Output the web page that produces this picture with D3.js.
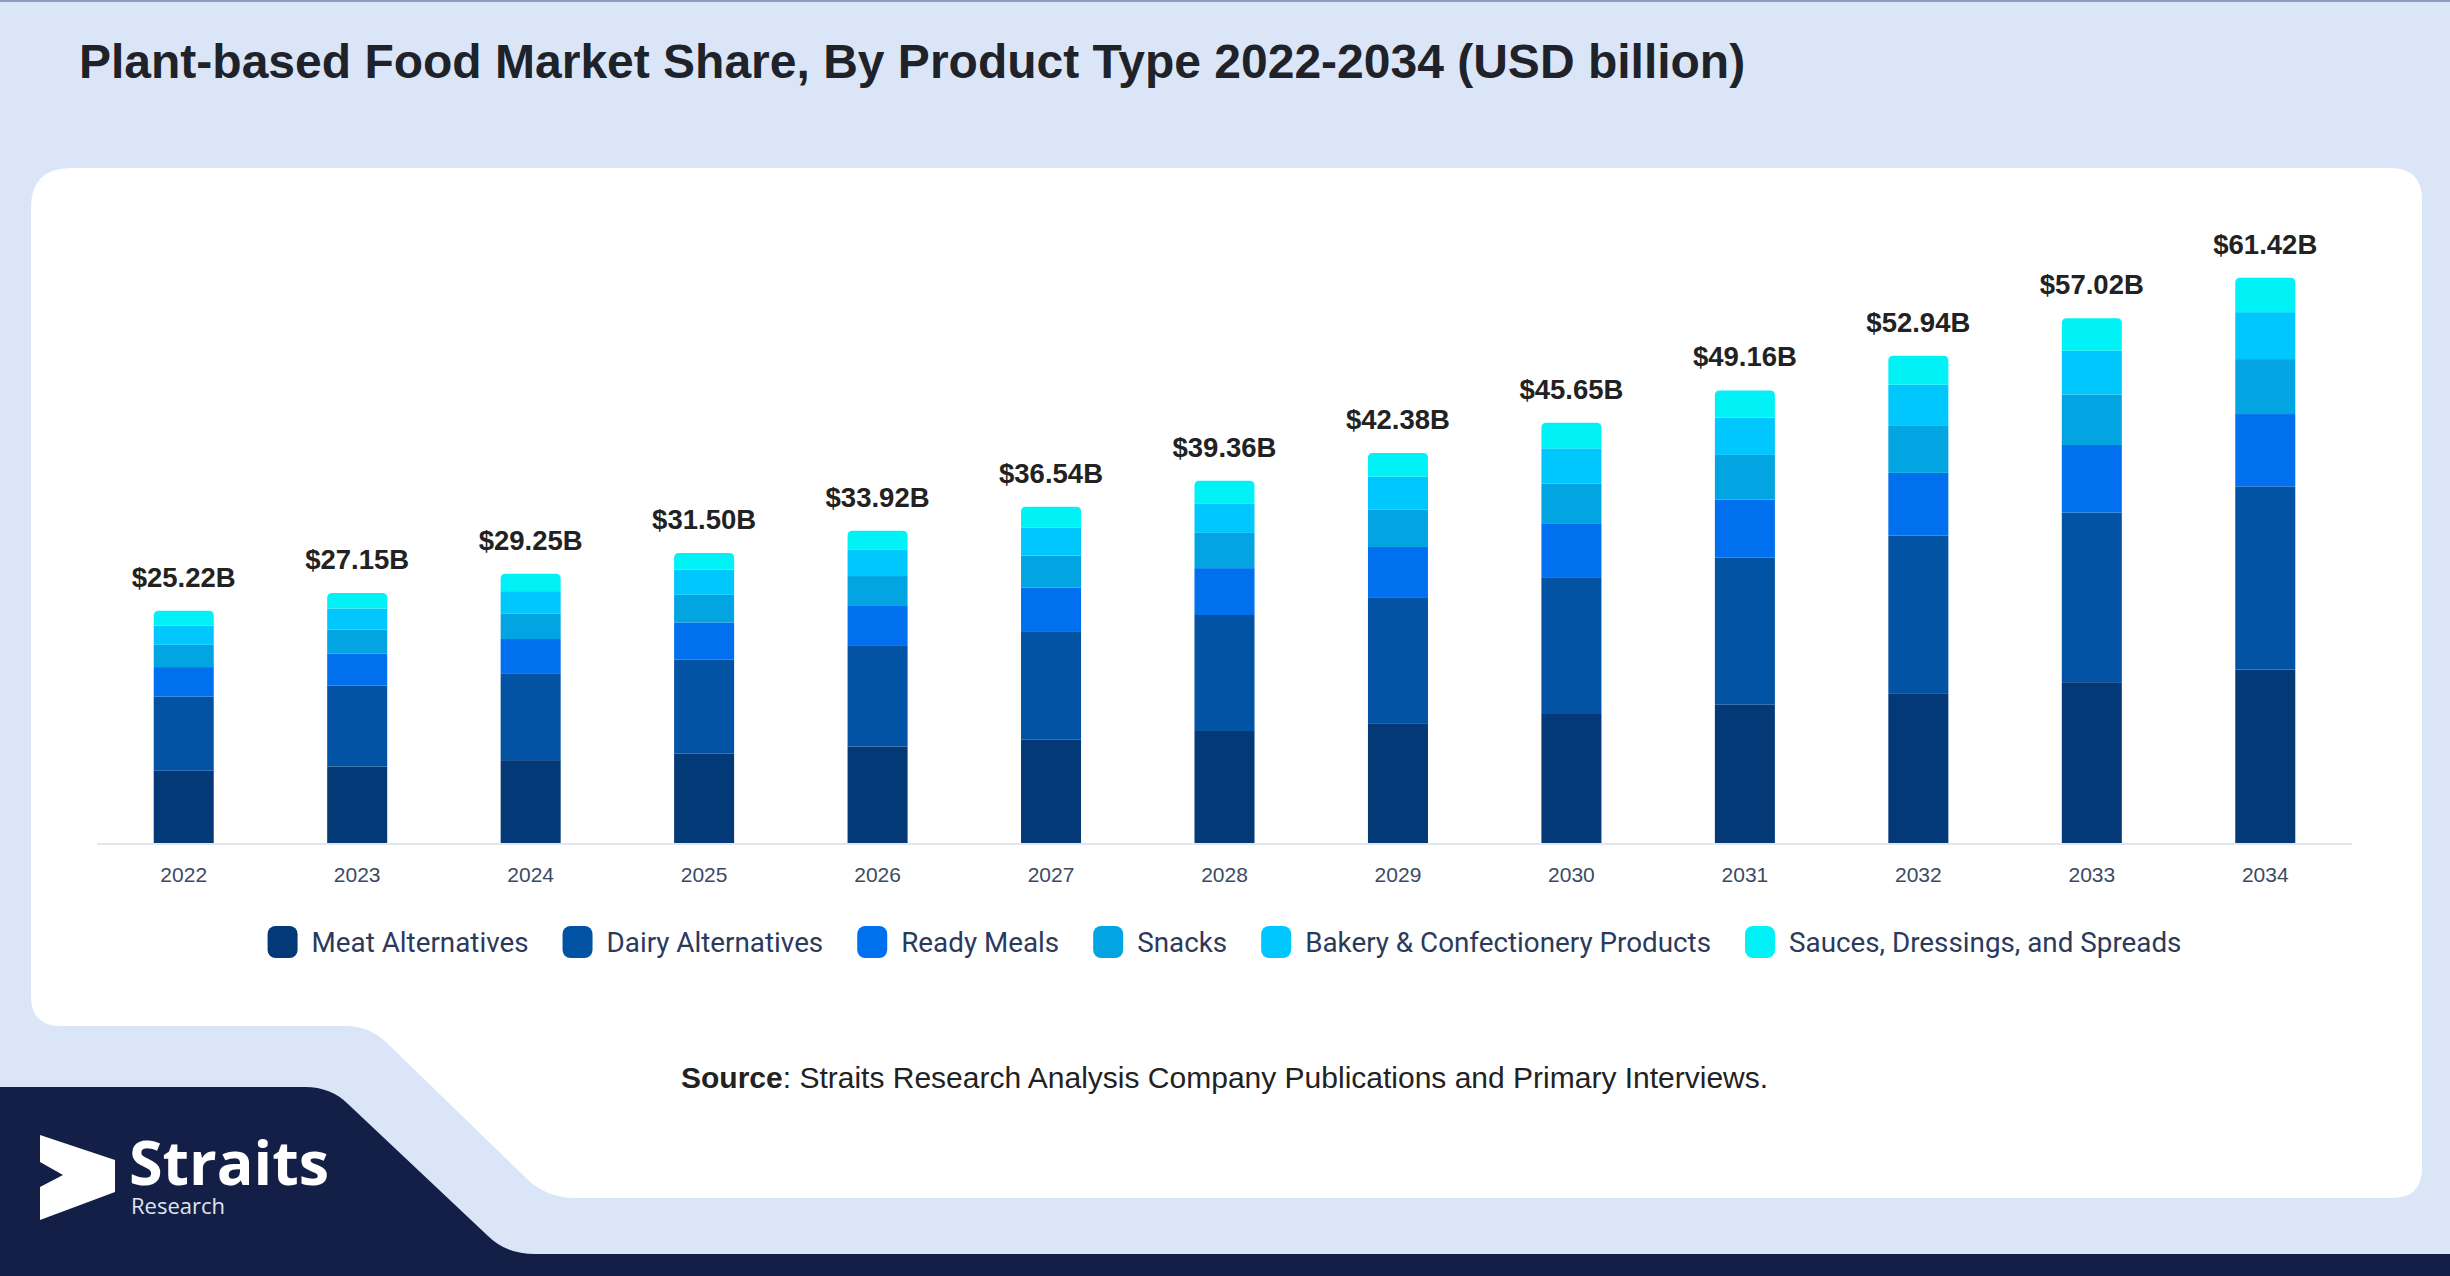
<!DOCTYPE html>
<html>
<head>
<meta charset="utf-8">
<script src="https://cdn.jsdelivr.net/npm/d3@7"></script>
<style>
  html, body { margin: 0; padding: 0; background: #dae6f8; }
  svg { display: block; }
</style>
</head>
<body>
<svg id="chart" width="2450" height="1276"></svg>
<script>
// ---- Data ----
const years = ['2022','2023','2024','2025','2026','2027','2028','2029','2030','2031','2032','2033','2034'];
const totals = [25.22, 27.15, 29.25, 31.50, 33.92, 36.54, 39.36, 42.38, 45.65, 49.16, 52.94, 57.02, 61.42];
const seriesNames = ['Meat Alternatives', 'Dairy Alternatives', 'Ready Meals', 'Snacks', 'Bakery & Confectionery Products', 'Sauces, Dressings, and Spreads'];
const meatAlternatives  = [7.85, 8.31, 9.00, 9.70, 10.49, 11.22, 12.17, 13.01, 14.11, 15.06, 16.27, 17.47, 18.84];
const dairyAlternatives = [8.07, 8.78, 9.44, 10.21, 10.92, 11.79, 12.60, 13.69, 14.69, 15.93, 17.14, 18.44, 19.90];
const readyMeals        = [3.19, 3.50, 3.72, 4.05, 4.34, 4.74, 5.09, 5.46, 5.86, 6.31, 6.80, 7.33, 7.86];
const snacks            = [2.42, 2.60, 2.78, 3.00, 3.25, 3.47, 3.83, 4.05, 4.38, 4.86, 5.10, 5.48, 5.97];
const bakery            = [2.06, 2.28, 2.42, 2.72, 2.89, 3.04, 3.21, 3.58, 3.83, 4.03, 4.47, 4.75, 5.10];
const sauces            = [1.63, 1.68, 1.89, 1.82, 2.03, 2.28, 2.46, 2.59, 2.78, 2.97, 3.16, 3.55, 3.75];
const colors = ['#043977', '#0253a4', '#0070ee', '#02a5e2', '#00c7fe', '#00f2f7'];

const seriesValues = [meatAlternatives, dairyAlternatives, readyMeals, snacks, bakery, sauces];
const table = years.map((y, i) => {
  const row = { year: y };
  seriesNames.forEach((s, k) => row[s] = seriesValues[k][i]);
  return row;
});

const svg = d3.select('#chart');

// ---- Background decorations ----
svg.append('rect').attr('x', 0).attr('y', 0).attr('width', 2450).attr('height', 1276).attr('fill', '#dae6f8');
svg.append('rect').attr('x', 0).attr('y', 0).attr('width', 2450).attr('height', 2).attr('fill', '#8e9dbb');

// white card with stepped bottom-left
const card = d3.path();
card.moveTo(31 + 40, 168);
card.lineTo(2422 - 32, 168);
card.quadraticCurveTo(2422, 168, 2422, 168 + 32);
card.lineTo(2422, 1198 - 30);
card.quadraticCurveTo(2422, 1198, 2422 - 30, 1198);
card.lineTo(575, 1198);
card.quadraticCurveTo(546, 1198, 526, 1178);
card.lineTo(386, 1042);
card.quadraticCurveTo(369, 1026, 345, 1026);
card.lineTo(31 + 30, 1026);
card.quadraticCurveTo(31, 1026, 31, 1026 - 30);
card.lineTo(31, 168 + 40);
card.quadraticCurveTo(31, 168, 31 + 40, 168);
card.closePath();
svg.append('path').attr('d', card.toString()).attr('fill', '#ffffff');

// navy footer shape
const navy = d3.path();
navy.moveTo(0, 1087);
navy.lineTo(305, 1087);
navy.quadraticCurveTo(331, 1087, 348, 1104);
navy.lineTo(488, 1236);
navy.quadraticCurveTo(506, 1254, 535, 1254);
navy.lineTo(2450, 1254);
navy.lineTo(2450, 1276);
navy.lineTo(0, 1276);
navy.closePath();
svg.append('path').attr('d', navy.toString()).attr('fill', '#131f47');

// logo
svg.append('polygon')
  .attr('points', '40,1135 115,1160 115,1192 40,1220 40,1187 63,1175 40,1162')
  .attr('fill', '#ffffff');
svg.append('text').attr('x', 129).attr('y', 1185)
  .attr('font-family', '"Open Sans", sans-serif').attr('font-weight', 700)
  .attr('font-size', 61).attr('fill', '#ffffff').text('Straits');
svg.append('text').attr('x', 131).attr('y', 1214)
  .attr('font-family', '"Open Sans", sans-serif').attr('font-weight', 400)
  .attr('font-size', 22).attr('fill', '#dfe4ee').text('Research');

// ---- Title ----
svg.append('text').attr('x', 79).attr('y', 78)
  .attr('font-family', '"Liberation Sans", Arial, sans-serif').attr('font-weight', 700)
  .attr('font-size', 48).attr('fill', '#1f2329')
  .text('Plant-based Food Market Share, By Product Type 2022-2034 (USD billion)');

// ---- Scales ----
const x = d3.scaleBand().domain(years).range([97, 2352]).paddingInner(0.654).paddingOuter(0.327);
const y = d3.scaleLinear().domain([0, 70]).range([843, 843 - 9.205 * 70]);

const stack = d3.stack().keys(seriesNames);
const stacked = stack(table);

const g = svg.append('g');
stacked.forEach((layer, k) => {
  const isTop = k === stacked.length - 1;
  const lg = g.append('g').attr('fill', colors[k]);
  if (!isTop) {
    lg.selectAll('rect').data(layer).join('rect')
      .attr('x', d => x(d.data.year))
      .attr('y', d => y(d[1]))
      .attr('width', x.bandwidth())
      .attr('height', d => y(d[0]) - y(d[1]));
  } else {
    lg.selectAll('path').data(layer).join('path')
      .attr('d', d => {
        const x0 = x(d.data.year), w = x.bandwidth();
        const yt = y(d[1]), yb = y(d[0]), r = 5;
        const p = d3.path();
        p.moveTo(x0, yb);
        p.lineTo(x0, yt + r);
        p.quadraticCurveTo(x0, yt, x0 + r, yt);
        p.lineTo(x0 + w - r, yt);
        p.quadraticCurveTo(x0 + w, yt, x0 + w, yt + r);
        p.lineTo(x0 + w, yb);
        p.closePath();
        return p.toString();
      });
  }
});

// axis line
svg.append('line').attr('x1', 97).attr('x2', 2352).attr('y1', 844).attr('y2', 844)
  .attr('stroke', '#e2e5ea').attr('stroke-width', 2);

// x axis labels via d3 axis
const xAxis = d3.axisBottom(x).tickSize(0).tickPadding(0);
const ax = svg.append('g').attr('transform', 'translate(0,882)').call(xAxis);
ax.select('.domain').remove();
ax.selectAll('text')
  .attr('dy', 0)
  .attr('font-family', '"Liberation Sans", Arial, sans-serif')
  .attr('font-size', 21).attr('fill', '#3b4a63');

// totals
svg.append('g').selectAll('text').data(years).join('text')
  .attr('x', (d) => x(d) + x.bandwidth() / 2)
  .attr('y', (d, i) => y(totals[i]) - 24)
  .attr('text-anchor', 'middle')
  .attr('font-family', '"Liberation Sans", Arial, sans-serif').attr('font-weight', 700)
  .attr('font-size', 27.5).attr('fill', '#222222')
  .text((d, i) => `$${totals[i].toFixed(2)}B`);

// ---- Legend ----
const legend = svg.append('g');
const items = legend.selectAll('g').data(seriesNames).join('g');
items.append('rect').attr('width', 30).attr('height', 32).attr('rx', 8).attr('ry', 8)
  .attr('y', 926).attr('fill', (d, i) => colors[i]);
items.append('text').attr('x', 44).attr('y', 952)
  .attr('font-family', 'Roboto, sans-serif').attr('font-size', 27.8).attr('fill', '#2b3a5c')
  .text(d => d);
let cursor = 0;
const widths = [];
items.each(function () {
  const w = 44 + d3.select(this).select('text').node().getComputedTextLength();
  widths.push(w);
});
const total = d3.sum(widths) + 34 * (widths.length - 1);
cursor = 1224.5 - total / 2;
items.each(function (d, i) {
  d3.select(this).attr('transform', `translate(${cursor},0)`);
  cursor += widths[i] + 34;
});

// ---- Source ----
const src = svg.append('text').attr('x', 681).attr('y', 1088)
  .attr('font-family', '"Liberation Sans", Arial, sans-serif').attr('font-size', 30).attr('fill', '#222222');
src.append('tspan').attr('font-weight', 700).text('Source');
src.append('tspan').text(': Straits Research Analysis Company Publications and Primary Interviews.');
</script>
</body>
</html>
